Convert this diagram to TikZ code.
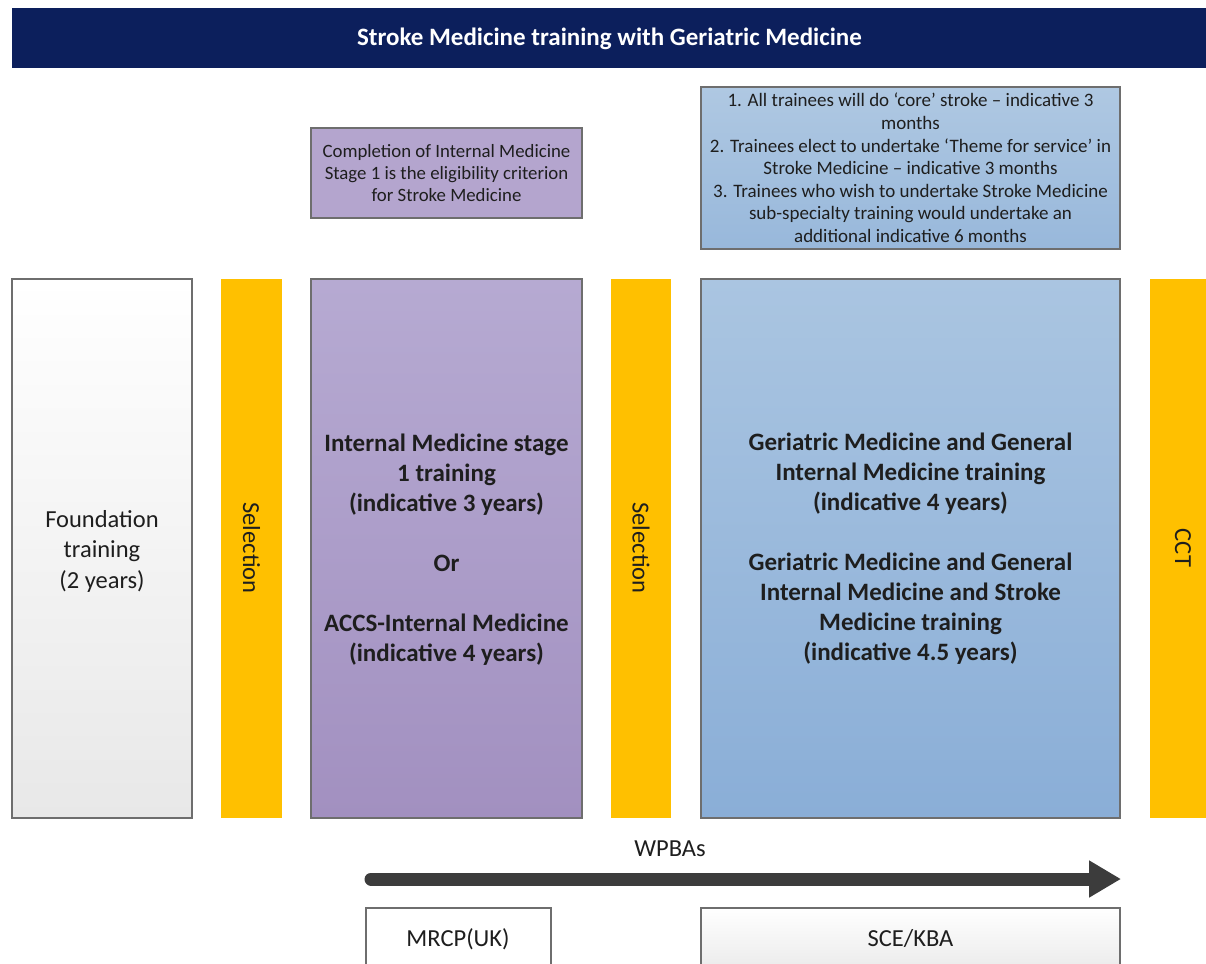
\documentclass[tikz,border=0pt]{standalone}
\usepackage{fontspec}
\setmainfont{Carlito}
\usetikzlibrary{arrows.meta}
\definecolor{navy}{HTML}{0C1F5C}
\definecolor{gold}{HTML}{FFC000}
\definecolor{edge}{HTML}{6E6E6E}
\definecolor{txt}{HTML}{1E1E1E}
\definecolor{purpTop}{HTML}{B6AAD2}
\definecolor{purpBot}{HTML}{A290C0}
\definecolor{purpNote}{HTML}{B4A5CE}
\definecolor{blueTop}{HTML}{AAC5E1}
\definecolor{blueBot}{HTML}{8AAED7}
\definecolor{blueNoteTop}{HTML}{AFC8E2}
\definecolor{blueNoteBot}{HTML}{98B8DB}
\definecolor{greyBot}{HTML}{E8E8E8}
\definecolor{arrowgrey}{HTML}{3C3C3C}
\begin{document}
\begin{tikzpicture}[x=1pt,y=-1pt,
  every node/.style={inner sep=0pt, outer sep=0pt},
  box/.style={draw=edge, line width=1.2pt},
  selbar/.style={fill=gold, draw=none},
  lbl/.style={align=center, text=txt},
  bigbold/.style={lbl, font=\fontsize{25}{30}\selectfont\bfseries},
  bigreg/.style={lbl, font=\fontsize{24.5}{30.5}\selectfont},
  notetxt/.style={lbl, font=\fontsize{19}{22.6}\selectfont},
]
\clip (0,0) rectangle (1206,963);
% title bar
\node[fill=navy, minimum width=1200pt, minimum height=60pt, anchor=north west] (title) at (12,8) {};
\node[font=\fontsize{25}{28}\selectfont\bfseries, text=white] (titletxt) at (609.5,39) {Stroke Medicine training with Geriatric Medicine};

% notes
\node[box, fill=purpNote, minimum width=271pt, minimum height=90pt] (note1) at (446.5,173) {};
\node[notetxt, font=\fontsize{18.8}{22}\selectfont] (note1txt) at (446.5,173) {Completion of Internal Medicine\\Stage 1 is the eligibility criterion\\for Stroke Medicine};
\node[box, top color=blueNoteTop, bottom color=blueNoteBot, minimum width=419pt, minimum height=162pt] (note2) at (910.5,168) {};
\node[notetxt] (note2txt) at (910.5,168) {1. All trainees will do `core' stroke -- indicative 3\\months\\2. Trainees elect to undertake `Theme for service' in\\Stroke Medicine -- indicative 3 months\\3. Trainees who wish to undertake Stroke Medicine\\sub-specialty training would undertake an\\additional indicative 6 months};

% main columns
\node[box, top color=white, bottom color=greyBot, minimum width=180pt, minimum height=539pt] (found) at (102,548.5) {};
\node[bigreg] (foundtxt) at (102,551) {Foundation\\training\\(2 years)};

\node[selbar, minimum width=61pt, minimum height=539pt] (sel1) at (251.5,548.5) {};
\node[bigreg, rotate=-90] (sel1txt) at (251.5,548) {Selection};

\node[box, top color=purpTop, bottom color=purpBot, minimum width=271pt, minimum height=539pt] (im) at (446.5,548.5) {};
\node[bigbold] (imtxt) at (446.5,550) {Internal Medicine stage\\1 training\\(indicative 3 years)\\[30pt]Or\\[30pt]ACCS-Internal Medicine\\(indicative 4 years)};

\node[selbar, minimum width=60pt, minimum height=539pt] (sel2) at (641,548.5) {};
\node[bigreg, rotate=-90] (sel2txt) at (641,548) {Selection};

\node[box, top color=blueTop, bottom color=blueBot, minimum width=419pt, minimum height=539pt] (gm) at (910.5,548.5) {};
\node[bigbold] (gmtxt) at (910.5,549) {Geriatric Medicine and General\\Internal Medicine training\\(indicative 4 years)\\[30pt]Geriatric Medicine and General\\Internal Medicine and Stroke\\Medicine training\\(indicative 4.5 years)};

\node[selbar, minimum width=60pt, minimum height=539pt] (cct) at (1180,548.5) {};
\node[bigreg, rotate=-90] (ccttxt) at (1183,548) {CCT};

% WPBAs arrow
\node[bigreg] (wpba) at (670,849) {WPBAs};
\coordinate (arrS) at (371,879);
\coordinate (arrE) at (1121,879);
\draw[arrowgrey, line width=13pt, line cap=round, -{Triangle[length=32pt, width=35pt]}] (arrS) -- (arrE);

% assessments
\node[box, fill=white, minimum width=185pt, minimum height=70pt, anchor=north west] (mrcp) at (366,908) {};
\node[bigreg] (mrcptxt) at (458,939) {MRCP(UK)};
\node[box, top color=white, bottom color=greyBot, minimum width=419pt, minimum height=70pt, anchor=north west] (sce) at (701,908) {};
\node[bigreg] (scetxt) at (910.5,939) {SCE/KBA};
\end{tikzpicture}
\end{document}
